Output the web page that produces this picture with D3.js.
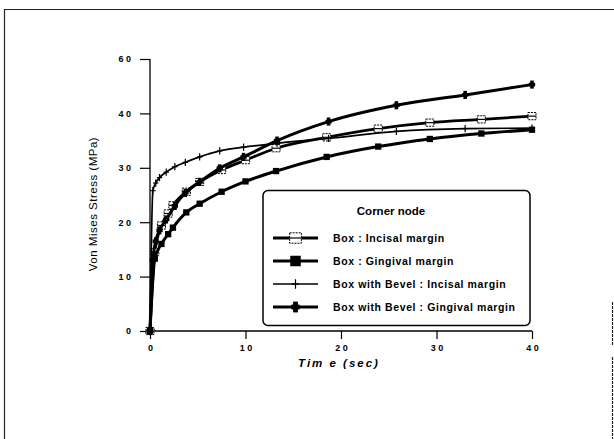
<!DOCTYPE html>
<html>
<head>
<meta charset="utf-8">
<script src="https://cdnjs.cloudflare.com/ajax/libs/d3/7.8.5/d3.min.js"></script>
<style>
  html, body { margin: 0; padding: 0; background: #fff; }
  svg { display: block; }
  text { font-family: "Liberation Sans", Arial, Helvetica, sans-serif; fill: #000; }
</style>
</head>
<body>
<svg id="chart" width="614" height="439"></svg>
<script>
// Von Mises stress at the corner node over time (sec), four preparation designs
const boxTimes   = [0, 0.5, 1.2, 1.9, 2.4, 3.8, 5.2, 7.5, 10, 13.2, 18.5, 23.9, 29.3, 34.7, 40];
const bevelTimes = [0, 0.3, 0.6, 1.0, 1.7, 2.6, 3.7, 5.2, 7.3, 9.8, 13.3, 18.7, 25.8, 33, 40];

const boxIncisal    = [0, 14.5, 19.4, 21.6, 23.1, 25.6, 27.4, 29.6, 31.4, 33.6, 35.6, 37.2, 38.3, 38.9, 39.5];
const boxGingival   = [0, 13.3, 16.0, 17.8, 19.0, 21.8, 23.4, 25.6, 27.5, 29.4, 32.0, 33.9, 35.3, 36.3, 37.0];
const bevelIncisal  = [0, 25.8, 27.2, 28.2, 29.2, 30.2, 31.0, 32.0, 33.1, 33.8, 34.5, 35.4, 36.7, 37.2, 37.3];
const bevelGingival = [0, 13.0, 16.5, 18.5, 20.5, 23.0, 25.4, 27.4, 29.9, 32.0, 35.0, 38.5, 41.5, 43.4, 45.3];

const seriesNames = [
  "Box : Incisal margin",
  "Box : Gingival margin",
  "Box with Bevel : Incisal margin",
  "Box with Bevel : Gingival margin"
];

const xTicks = [0, 10, 20, 30, 40];
const xTickLabels = ["0", "10", "20", "30", "40"];
const yTicks = [0, 10, 20, 30, 40, 50];
const yTickLabels = ["0", "10", "20", "30", "40", "60"];

const legendTitle = "Corner node";
const xTitle = "Tim e (sec)";
const yTitle = "Von Mises Stress (MPa)";

const svg = d3.select("#chart");

// page frame (top, left and the lower part of the right edge)
const frame = svg.append("g").attr("stroke", "#222").attr("stroke-width", 1.2).attr("fill", "none");
frame.append("path").attr("d", "M4.5,439V9.5H614");
frame.append("path").attr("d", "M612.5,302V346M612.5,357V439").attr("stroke-dasharray", "3,1");

const x = d3.scaleLinear().domain([0, 40]).range([150, 532]);
const y = d3.scaleLinear().domain([0, 50]).range([331, 59]);

// axes
const xAxis = d3.axisBottom(x)
  .tickValues(xTicks)
  .tickSize(8)
  .tickPadding(6)
  .tickFormat((d, i) => xTickLabels[i].split("").join(" "));
const gx = svg.append("g").attr("transform", `translate(0,${y(0)})`).call(xAxis);
gx.select(".domain").attr("d", `M${x(0) - 4},0H${x(40)}`).attr("stroke-width", 1.3);
gx.selectAll(".tick line").attr("stroke-width", 1.2);
gx.selectAll(".tick text")
  .style("font-size", "9px").style("font-weight", "bold")
  .style("font-family", "'Liberation Sans', Arial, sans-serif");

const yAxis = d3.axisLeft(y)
  .tickValues(yTicks)
  .tickSize(10)
  .tickPadding(9)
  .tickFormat((d, i) => yTickLabels[i].split("").join(" "));
const gy = svg.append("g").attr("transform", `translate(${x(0)},0)`).call(yAxis);
gy.select(".domain").attr("d", `M0,${y(50)}V${y(0)}`).attr("stroke-width", 1.3);
gy.selectAll(".tick line").attr("stroke-width", 1.2);
gy.selectAll(".tick text")
  .style("font-size", "9px").style("font-weight", "bold")
  .style("font-family", "'Liberation Sans', Arial, sans-serif");

// axis titles
svg.append("text")
  .attr("x", 339).attr("y", 367)
  .attr("text-anchor", "middle")
  .style("font-size", "11.5px").style("font-weight", "bold").style("font-style", "italic")
  .style("letter-spacing", "2px")
  .text(xTitle);

svg.append("text")
  .attr("transform", `translate(97,204) rotate(-90)`)
  .attr("text-anchor", "middle")
  .style("font-size", "11.5px")
  .style("letter-spacing", "0.5px")
  .text(yTitle);

// series
const series = [
  { t: boxTimes,   v: boxIncisal,    lw: 2.8, marker: "openSquare" },
  { t: boxTimes,   v: boxGingival,   lw: 3.0, marker: "filledSquare" },
  { t: bevelTimes, v: bevelIncisal,  lw: 1.7, marker: "thinPlus" },
  { t: bevelTimes, v: bevelGingival, lw: 3.0, marker: "thickPlus" }
];

const line = d3.line().x(d => x(d[0])).y(d => y(d[1])).curve(d3.curveMonotoneX);

function drawMarker(g, kind, cx, cy, scale) {
  const s = scale || 1;
  if (kind === "openSquare") {
    g.append("rect")
      .attr("x", cx - 4.5 * s).attr("y", cy - 4 * s)
      .attr("width", 9 * s).attr("height", 8 * s)
      .attr("fill", "#fff").attr("stroke", "#000").attr("stroke-width", 1)
      .attr("stroke-dasharray", "2,1");
    g.append("line")
      .attr("x1", cx - 4.5 * s).attr("x2", cx + 4.5 * s)
      .attr("y1", cy).attr("y2", cy)
      .attr("stroke", "#000").attr("stroke-width", 1.2);
  } else if (kind === "filledSquare") {
    g.append("rect")
      .attr("x", cx - 3.5 * s).attr("y", cy - 3.5 * s)
      .attr("width", 7 * s).attr("height", 7 * s)
      .attr("fill", "#000");
  } else if (kind === "thinPlus") {
    g.append("line")
      .attr("x1", cx).attr("x2", cx)
      .attr("y1", cy - 4 * s).attr("y2", cy + 4 * s)
      .attr("stroke", "#000").attr("stroke-width", 1.2);
    g.append("line")
      .attr("x1", cx - 3 * s).attr("x2", cx + 3 * s)
      .attr("y1", cy).attr("y2", cy)
      .attr("stroke", "#000").attr("stroke-width", 1.2);
  } else if (kind === "thickPlus") {
    g.append("rect")
      .attr("x", cx - 2 * s).attr("y", cy - 4.5 * s)
      .attr("width", 4 * s).attr("height", 9 * s)
      .attr("fill", "#000");
    g.append("rect")
      .attr("x", cx - 3.5 * s).attr("y", cy - 2 * s)
      .attr("width", 7 * s).attr("height", 4 * s)
      .attr("fill", "#000");
  }
}

const plot = svg.append("g");
series.forEach(s => {
  const pts = s.t.map((t, i) => [t, s.v[i]]);
  plot.append("path")
    .datum(pts)
    .attr("d", line)
    .attr("fill", "none")
    .attr("stroke", "#000")
    .attr("stroke-width", s.lw)
    .attr("stroke-linejoin", "round");
  const mg = plot.append("g");
  pts.forEach(p => drawMarker(mg, s.marker, x(p[0]), y(p[1]), 0.9));
});

// legend
const lg = svg.append("g");
lg.append("rect")
  .attr("x", 263).attr("y", 190.5)
  .attr("width", 267).attr("height", 135)
  .attr("rx", 5).attr("ry", 5)
  .attr("fill", "#fff").attr("stroke", "#000").attr("stroke-width", 1.5);

lg.append("text")
  .attr("x", 391).attr("y", 215)
  .attr("text-anchor", "middle")
  .style("font-size", "11.5px").style("font-weight", "bold")
  .text(legendTitle);

const rowY = [238, 261, 284, 307];
series.forEach((s, i) => {
  const ry = rowY[i];
  lg.append("line")
    .attr("x1", 273).attr("x2", 318)
    .attr("y1", ry).attr("y2", ry)
    .attr("stroke", "#000").attr("stroke-width", s.lw);
  drawMarker(lg, s.marker, 295.5, ry, s.marker === "filledSquare" ? 1.5 : (s.marker === "openSquare" ? 1.3 : 1.2));
  lg.append("text")
    .attr("x", 333).attr("y", ry + 4)
    .style("font-size", "10.5px").style("font-weight", "bold")
    .style("letter-spacing", "0.6px")
    .text(seriesNames[i]);
});
</script>
</body>
</html>
